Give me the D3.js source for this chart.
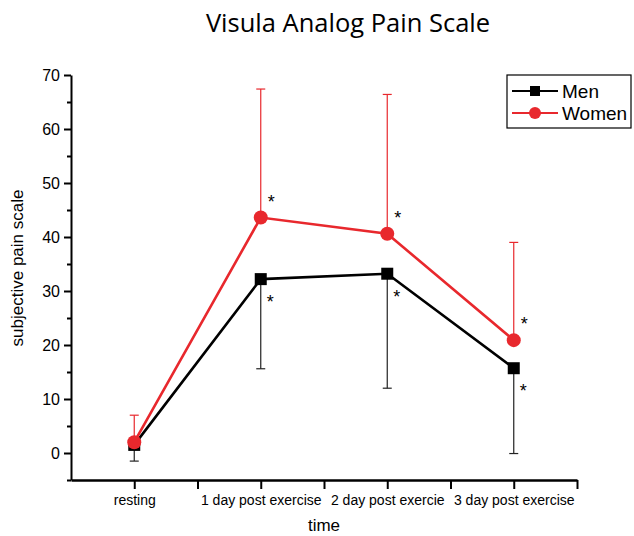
<!DOCTYPE html>
<html lang="en">
<head>
  <meta charset="UTF-8" />
  <title>Visula Analog Pain Scale</title>
  <style>
    body { margin: 0; background: white; }
    svg { display: block; }
  </style>
</head>
<body>
  <svg id="chart" width="634" height="536"></svg>

  <script src="https://d3js.org/d3.v7.min.js"></script>
  <script>
    // categories on the x axis
    const timePoints = ["resting", "1 day post exercise", "2 day post exercise", "3 day post exercise"];
    const timeLabels = ["resting", "1 day post exercise", "2 day post exercie", "3 day post exercise"];

    // means and one-sided error bars (SD)
    const menMean = [1.5, 32.2, 33.2, 15.7];
    const menLow = [-1.5, 15.6, 12.0, -0.1];     // error bar goes down
    const womenMean = [2.0, 43.6, 40.6, 20.9];
    const womenHigh = [7.0, 67.4, 66.4, 39.0];   // error bar goes up
    // significance markers (index of time point)
    const menStars = [1, 2, 3];
    const womenStars = [1, 2, 3];

    const yTicks = [0, 10, 20, 30, 40, 50, 60, 70];

    const svg = d3.select("#chart");
    const red = "#e8282d";
    const font = "Liberation Sans, Arial, sans-serif";

    const x = d3.scaleLinear().domain([0.5, 4.5]).range([71, 577]);
    const y = d3.scaleLinear().domain([-5, 70]).range([480, 75]);

    // title
    svg.append("text")
      .attr("x", 348).attr("y", 32)
      .attr("text-anchor", "middle")
      .attr("font-family", "Open Sans, sans-serif")
      .attr("font-size", "25.5px")
      .text("Visula Analog Pain Scale");

    // y axis with minor ticks
    const yMinor = d3.range(-5, 71, 5).filter(d => d % 10 !== 0);
    svg.append("g")
      .attr("transform", "translate(71,0)")
      .call(d3.axisLeft(y).tickValues(yMinor).tickSize(4).tickFormat(""))
      .call(g => g.select(".domain").remove())
      .call(g => g.selectAll("line").attr("stroke-width", 2));
    const yAxis = svg.append("g")
      .attr("transform", "translate(71,0)")
      .call(d3.axisLeft(y).tickValues(yTicks).tickSize(7).tickSizeOuter(0).tickPadding(4));
    yAxis.select(".domain").attr("stroke-width", 2);
    yAxis.selectAll("line").attr("stroke-width", 2);
    yAxis.selectAll("text")
      .attr("font-family", font)
      .attr("font-size", "16px");

    // x axis
    const xTickVals = d3.range(1, 4.51, 0.5);
    const xAxis = svg.append("g")
      .attr("transform", "translate(0,480)")
      .call(d3.axisBottom(x).tickValues(xTickVals).tickSize(9).tickSizeOuter(0).tickPadding(6)
        .tickFormat(d => Number.isInteger(d) ? timeLabels[d - 1] : ""));
    xAxis.select(".domain").attr("stroke-width", 2.5);
    xAxis.selectAll("line").attr("stroke-width", 2);
    xAxis.selectAll("text")
      .attr("font-family", font)
      .attr("font-size", "14px");

    // axis titles
    svg.append("text")
      .attr("transform", "translate(23,268) rotate(-90)")
      .attr("text-anchor", "middle")
      .attr("font-family", font)
      .attr("font-size", "17px")
      .text("subjective pain scale");
    svg.append("text")
      .attr("x", 324).attr("y", 531)
      .attr("text-anchor", "middle")
      .attr("font-family", font)
      .attr("font-size", "17px")
      .text("time");

    const idx = timePoints.map((_, i) => i);
    const line = d3.line().x(i => x(i + 1));

    // error bars
    function errorBars(lo, hi, capEnd, color) {
      const g = svg.append("g").attr("stroke", color).attr("stroke-width", 1.2);
      g.selectAll("line.v").data(idx).join("line").attr("class", "v")
        .attr("x1", i => x(i + 1)).attr("x2", i => x(i + 1))
        .attr("y1", i => y(lo[i])).attr("y2", i => y(hi[i]));
      g.selectAll("line.c").data(idx).join("line").attr("class", "c")
        .attr("x1", i => x(i + 1) - 4.5).attr("x2", i => x(i + 1) + 4.5)
        .attr("y1", i => y(capEnd[i])).attr("y2", i => y(capEnd[i]));
    }
    errorBars(menLow, menMean, menLow, "#222");
    errorBars(womenMean, womenHigh, womenHigh, red);

    // men line + squares
    svg.append("path")
      .attr("d", line.y(i => y(menMean[i]))(idx))
      .attr("fill", "none").attr("stroke", "black").attr("stroke-width", 2.6);
    svg.selectAll("rect.men").data(idx).join("rect").attr("class", "men")
      .attr("x", i => x(i + 1) - 6).attr("y", i => y(menMean[i]) - 6)
      .attr("width", 12).attr("height", 12).attr("fill", "black");

    // women line + circles
    svg.append("path")
      .attr("d", line.y(i => y(womenMean[i]))(idx))
      .attr("fill", "none").attr("stroke", red).attr("stroke-width", 2.6);
    svg.selectAll("circle.women").data(idx).join("circle").attr("class", "women")
      .attr("cx", i => x(i + 1)).attr("cy", i => y(womenMean[i]))
      .attr("r", 7).attr("fill", red);

    // asterisks
    svg.selectAll("text.ws").data(womenStars).join("text").attr("class", "ws")
      .attr("x", i => x(i + 1) + 7).attr("y", i => y(womenMean[i]) - 10)
      .attr("font-family", font).attr("font-size", "18px")
      .text("*");
    svg.selectAll("text.ms").data(menStars).join("text").attr("class", "ms")
      .attr("x", i => x(i + 1) + 6).attr("y", i => y(menMean[i]) + 29)
      .attr("font-family", font).attr("font-size", "18px")
      .text("*");

    // legend
    const lg = svg.append("g");
    lg.append("rect").attr("x", 507).attr("y", 75).attr("width", 124).attr("height", 53)
      .attr("fill", "white").attr("stroke", "black").attr("stroke-width", 1.2);
    const items = [["Men", "black", "square"], ["Women", red, "circle"]];
    items.forEach(([name, col, shape], k) => {
      const cy = 91 + k * 22;
      lg.append("line").attr("x1", 512).attr("x2", 558).attr("y1", cy).attr("y2", cy)
        .attr("stroke", col).attr("stroke-width", 2);
      if (shape === "square") {
        lg.append("rect").attr("x", 530).attr("y", cy - 5).attr("width", 10).attr("height", 10).attr("fill", col);
      } else {
        lg.append("circle").attr("cx", 535).attr("cy", cy).attr("r", 6).attr("fill", col);
      }
      lg.append("text").attr("x", 562).attr("y", cy + 7)
        .attr("font-family", font).attr("font-size", "19px")
        .text(name);
    });
  </script>
</body>
</html>
